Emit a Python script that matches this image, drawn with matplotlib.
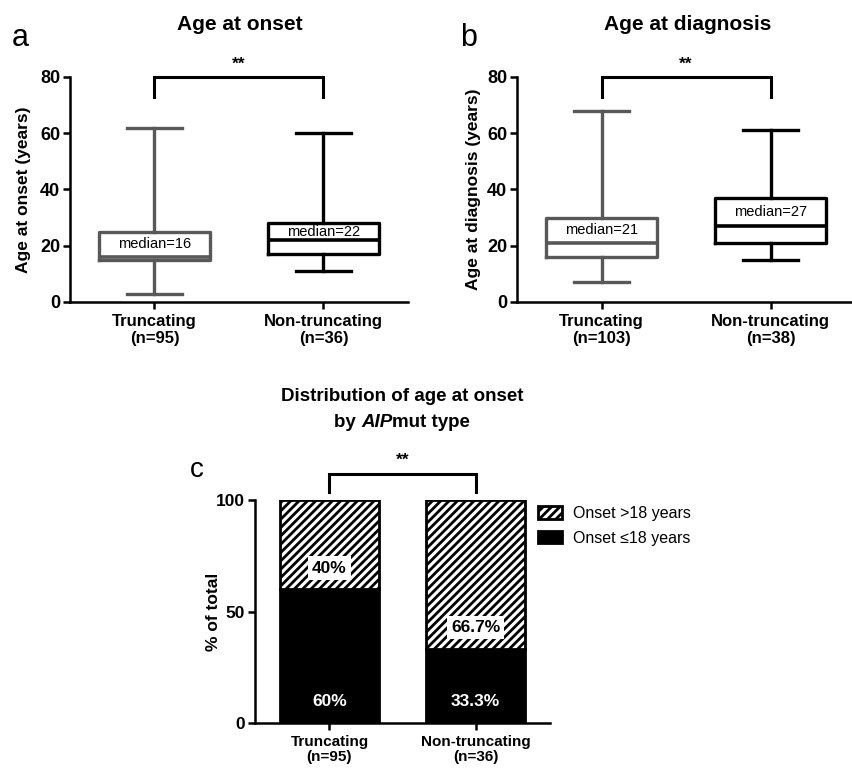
import matplotlib
matplotlib.use('Agg')
import matplotlib.pyplot as plt

plt.rcParams['font.family'] = ['Liberation Sans', 'DejaVu Sans']
plt.rcParams['hatch.linewidth'] = 2.0

# data
groups_onset = ['Truncating\n(n=95)', 'Non-truncating\n(n=36)']
onset_stats = [  # whislo, q1, med, q3, whishi
    [3, 15, 16, 25, 62],
    [11, 17, 22, 28, 60],
]
groups_diag = ['Truncating\n(n=103)', 'Non-truncating\n(n=38)']
diag_stats = [
    [7, 16, 21, 30, 68],
    [15, 21, 27, 37, 61],
]
box_colors = ['#585858', '#000000']

groups_c = ['Truncating\n(n=95)', 'Non-truncating\n(n=36)']
pct_le18 = [60, 33.3]
pct_gt18 = [40, 66.7]
lbl_le18 = ['60%', '33.3%']
lbl_gt18 = ['40%', '66.7%']

W, H = 853, 771
fig = plt.figure(figsize=(W / 100, H / 100), dpi=100)


def px_axes(left, top, right, bottom):
    return fig.add_axes([left / W, 1 - bottom / H, (right - left) / W, (bottom - top) / H])


def style_axes(ax):
    for s in ['top', 'right']:
        ax.spines[s].set_visible(False)
    for s in ['left', 'bottom']:
        ax.spines[s].set_linewidth(1.8)
    ax.tick_params(width=1.8, length=5, direction='out')
    ax.tick_params(axis='y', pad=2)


def bracket(ax, x0, x1, ytop, ybot, ystar):
    ax.plot([x0, x0, x1, x1], [ybot, ytop, ytop, ybot], color='black', lw=2.2,
            clip_on=False, solid_joinstyle='miter')
    ax.text((x0 + x1) / 2, ystar, '**', ha='center', va='center', fontsize=12.5,
            fontweight='bold')


def box_panel(ax, stats, groups, ylabel, lab_x):
    for i, (st, col) in enumerate(zip(stats, box_colors)):
        d = dict(whislo=st[0], q1=st[1], med=st[2], q3=st[3], whishi=st[4], fliers=[])
        lp = dict(color=col, linewidth=2.4)
        ax.bxp([d], positions=[i], widths=0.66, capwidths=0.33, showfliers=False,
               boxprops=lp, whiskerprops=lp, capprops=lp,
               medianprops=dict(color=col, linewidth=2.6))
        ax.text(i, (st[2] + st[3]) / 2, 'median=%d' % st[2], ha='center', va='center',
                fontsize=10.5)
    ax.set_xlim(-0.5, 1.5)
    ax.set_ylim(0, 80)
    ax.set_yticks([0, 20, 40, 60, 80])
    ax.set_xticks([0, 1])
    ax.set_xticklabels(groups, fontsize=12, fontweight='bold', linespacing=1.15)
    ax.tick_params(axis='y', labelsize=13)
    for t in ax.get_yticklabels():
        t.set_fontweight('bold')
    ax.set_ylabel(ylabel, fontsize=12.5, fontweight='bold')
    ax.yaxis.set_label_coords(lab_x, 0.5)
    style_axes(ax)
    bracket(ax, 0, 1, 80, 73, 84.5)


ax_a = px_axes(70, 77, 408, 302)
box_panel(ax_a, onset_stats, groups_onset, 'Age at onset (years)', -0.115)
ax_b = px_axes(517, 77, 855, 302)
box_panel(ax_b, diag_stats, groups_diag, 'Age at diagnosis (years)', -0.106)

fig.text(240 / W, 1 - 24 / H, 'Age at onset', fontsize=15, fontweight='bold',
         ha='center', va='center')
fig.text(688 / W, 1 - 24 / H, 'Age at diagnosis', fontsize=15, fontweight='bold',
         ha='center', va='center')
fig.text(20 / W, 1 - 38 / H, 'a', fontsize=22, ha='center', va='center')
fig.text(469 / W, 1 - 38 / H, 'b', fontsize=22, ha='center', va='center')

# panel c
ax_c = px_axes(255, 500, 550, 723)
xs = [0, 1]
ax_c.bar(xs, pct_le18, width=0.68, color='black', edgecolor='black', linewidth=2,
         label='Onset \u226418 years')
ax_c.bar(xs, pct_gt18, width=0.68, bottom=pct_le18, color='white', edgecolor='black',
         hatch='////', linewidth=2, label='Onset >18 years')
for x, b, lab in zip(xs, [0, 0], lbl_le18):
    ax_c.text(x, b + 9.5, lab, ha='center', va='center', color='white', fontsize=12.5,
              fontweight='bold')
for x, b, lab in zip(xs, pct_le18, lbl_gt18):
    ax_c.text(x, b + 9.5, lab, ha='center', va='center', color='black', fontsize=12.5,
              fontweight='bold',
              bbox=dict(facecolor='white', edgecolor='none', boxstyle='square,pad=0.25'))
ax_c.set_xlim(-0.51, 1.51)
ax_c.set_ylim(0, 100)
ax_c.set_yticks([0, 50, 100])
ax_c.set_xticks(xs)
ax_c.set_xticklabels(groups_c, fontsize=11, fontweight='bold', linespacing=1.15)
ax_c.tick_params(axis='y', labelsize=12.5)
for t in ax_c.get_yticklabels():
    t.set_fontweight('bold')
ax_c.set_ylabel('% of total', fontsize=12.5, fontweight='bold')
ax_c.yaxis.set_label_coords(-0.115, 0.5)
style_axes(ax_c)
bracket(ax_c, 0, 1, 111.7, 103.5, 118)

handles, labels = ax_c.get_legend_handles_labels()
ax_c.legend(handles[::-1], labels[::-1], loc='upper left',
            bbox_to_anchor=(538 / W, 1 - 506 / H), bbox_transform=fig.transFigure,
            frameon=False, borderpad=0, borderaxespad=0, fontsize=11.5,
            handlelength=1.5, handleheight=0.8, handletextpad=0.7, labelspacing=0.6)

fig.text(197 / W, 1 - 470 / H, 'c', fontsize=20, ha='center', va='center')

# title of panel c with italic AIP
cx = 402 / W
fig.text(cx, 1 - 397 / H, 'Distribution of age at onset', ha='center', va='center',
         fontsize=13.5, fontweight='bold')
parts = [('by ', 'normal'), ('AIP', 'italic'), ('mut type', 'normal')]
texts = [fig.text(0, 1 - 422 / H, p, ha='left', va='center', fontsize=13.5,
                  fontweight='bold', style=s) for p, s in parts]
r = fig.canvas.get_renderer()
widths = [t.get_window_extent(r).width for t in texts]
x = cx * W - sum(widths) / 2
for t, w in zip(texts, widths):
    t.set_x(x / W)
    x += w

fig.savefig('out.png', dpi=100)
